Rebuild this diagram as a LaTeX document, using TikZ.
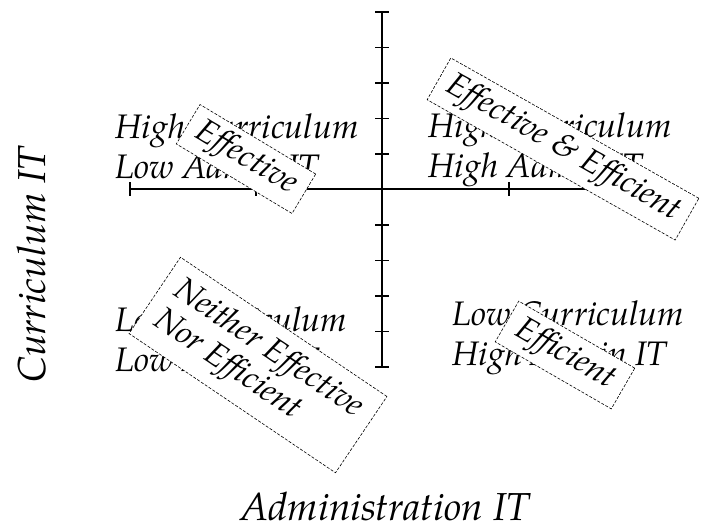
\documentclass[tikz,border=0pt]{standalone}
\usepackage{fontspec}
\setmainfont{texgyrepagella}[Extension=.otf,UprightFont=*-regular,ItalicFont=*-italic,BoldFont=*-bold,BoldItalicFont=*-bolditalic]
\begin{document}
\begin{tikzpicture}[x=1pt,y=-1pt,
  quad/.style={anchor=base west,align=left,inner sep=0pt,font=\fontsize{34}{40}\selectfont\itshape},
  tag/.style={draw,dash pattern=on 3pt off 1.6pt,line width=0.6pt,fill=white,inner sep=0pt,align=left,
    font=\fontsize{33}{36}\selectfont\itshape},
  axislab/.style={inner sep=0pt,font=\fontsize{39}{44}\selectfont\itshape},
  axisline/.style={line width=1.3pt},
  ticklin/.style={line width=1.1pt}]
\useasboundingbox (0,0) rectangle (701,531);
% axes
\coordinate (xl) at (130,189);
\coordinate (xr) at (635,189);
\coordinate (yt) at (382,12);
\coordinate (yb) at (382,367);
\draw[axisline] (xl) -- (xr);
\draw[axisline] (yt) -- (yb);
\foreach \k in {0,...,10}{
  \draw[ticklin] (375,12+\k*35.5) -- (389,12+\k*35.5);
}
\foreach \xx in {130,256,509,635}{
  \draw[ticklin] (\xx,182) -- (\xx,196);
}
% quadrant labels (anchor on last baseline)
\node[quad] (q1) at (115,178) {High Curriculum\\Low Admin IT};
\node[quad] (q2) at (428,177) {High Curriculum\\High Admin IT};
\node[quad] (q3) at (115,371) {Low Curriculum\\Low Admin IT};
\node[quad] (q4) at (452,365) {Low Curriculum\\High Admin IT};
% tags
\node[tag,rotate=-31,minimum width=135pt,minimum height=46pt,align=center] (t1) at (246,159) {Effective};
\node[tag,rotate=-29.5,minimum width=285pt,minimum height=48pt,align=center] (t2) at (563,149) {Effective \& Efficient};
\node[tag,rotate=-34,minimum width=249pt,minimum height=92pt] (t3) at (258,365) {Neither Effective\\Nor Efficient};
\node[tag,rotate=-30,minimum width=134pt,minimum height=47pt,align=center] (t4) at (565,355) {Efficient};
% axis labels
\node[axislab,rotate=90] (ly) at (32,265) {Curriculum IT};
\node[axislab,anchor=base] (lx) at (385,520) {Administration IT};
\end{tikzpicture}
\end{document}
